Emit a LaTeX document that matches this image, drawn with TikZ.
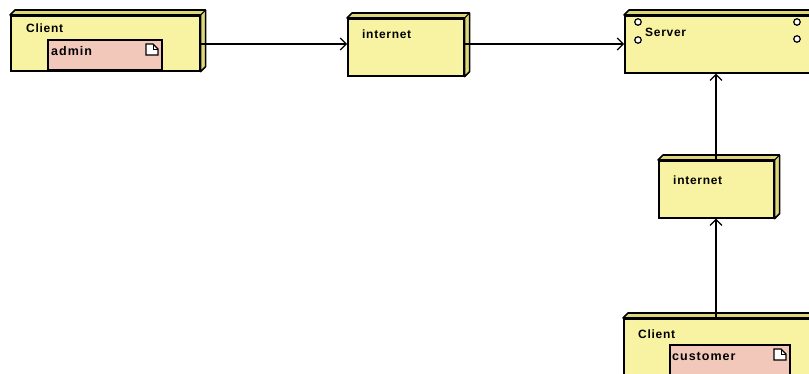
\documentclass[tikz,border=0pt]{standalone}
\usepackage{fontspec}
\setmainfont{Liberation Sans}
\usetikzlibrary{calc,arrows.meta}
\definecolor{nodeyel}{RGB}{248,243,162}
\definecolor{nodeyeldark}{RGB}{222,214,120}
\definecolor{artpink}{RGB}{242,200,186}
\tikzset{
  unode/.style={draw=black, line width=1.6pt, fill=nodeyel, rectangle, anchor=north west, inner sep=0pt},
  art/.style={draw=black, line width=1.2pt, fill=artpink},
  lbl/.style={anchor=west, inner sep=0pt, font=\fontsize{12}{14}\selectfont\bfseries\addfontfeature{LetterSpace=6}},
  artlbl/.style={anchor=west, inner sep=0pt, font=\fontsize{12.5}{14}\selectfont\bfseries\addfontfeature{LetterSpace=8}},
  conn/.style={line width=1.3pt, -{Straight Barb[length=6pt,width=12pt,line width=1.2pt]}},
  port/.style={draw=black, line width=1.2pt, fill=white, circle, inner sep=0pt, minimum size=6.5pt},
}
\newcommand{\nodedepth}[1]{%
  \draw[line width=1.6pt, fill=nodeyeldark, line join=round]
    (#1.north west) -- ++(5,-5) -- ($(#1.north east)+(5,-5)$) -- ($(#1.south east)+(5,-5)$)
    -- (#1.south east) -- (#1.north east) -- cycle;
  \draw[line width=1.2pt] (#1.north east) -- ++(5,-5);
}
\newcommand{\artshape}[5]{% x0 y0 x1 y1 name
  \draw[art] (#1,#2) rectangle (#3,#4);
  \draw[line width=1.1pt, fill=white] (#3-16,#2+4) -- (#3-9,#2+4) -- (#3-4,#2+9) -- (#3-4,#2+15) -- (#3-16,#2+15) -- cycle;
  \draw[line width=0.9pt] (#3-9,#2+4) -- (#3-9,#2+9) -- (#3-4,#2+9);
}
\begin{document}
\begin{tikzpicture}[x=1pt,y=-1pt]
\useasboundingbox (0,0) rectangle (809,374);
\fill[white] (0,0) rectangle (809,374);
\clip (0,0) rectangle (809,374);

% Client (admin)
\node[unode, minimum width=189pt, minimum height=55pt] (c1) at (10,15) {};
\nodedepth{c1}
\node[lbl] (c1t) at (26,28) {Client};
\artshape{48}{40}{162}{70}{a1}
\node[artlbl] (a1t) at (51,51) {admin};

% internet 1
\node[unode, minimum width=116pt, minimum height=57pt] (i1) at (347,18) {};
\nodedepth{i1}
\node[lbl] (i1t) at (362,34) {internet};

% Server
\node[unode, minimum width=200pt, minimum height=57pt] (s) at (624,15) {};
\nodedepth{s}
\node[port] (p1) at (638,22) {};
\node[port] (p2) at (638,40) {};
\node[port] (p3) at (797,22) {};
\node[port] (p4) at (797,39) {};
\node[lbl] (st) at (645,32) {Server};

% internet 2
\node[unode, minimum width=115pt, minimum height=57pt] (i2) at (658,160) {};
\nodedepth{i2}
\node[lbl] (i2t) at (673,180) {internet};

% Client (customer)
\node[unode, minimum width=200pt, minimum height=70pt] (c2) at (623,318) {};
\nodedepth{c2}
\node[lbl] (c2t) at (638,334) {Client};
\artshape{670}{345}{790}{390}{a2}
\node[artlbl] (a2t) at (672,356) {customer};

% connectors
\draw[conn] (c1.east |- 0,44) -- (i1.west |- 0,44);
\draw[conn] (i1.east |- 0,44) -- (s.west |- 0,44);
\draw[conn] (i2.north -| 716,0) -- (s.south -| 716,0);
\draw[conn] (c2.north -| 716,0) -- (i2.south -| 716,0);
\end{tikzpicture}
\end{document}
